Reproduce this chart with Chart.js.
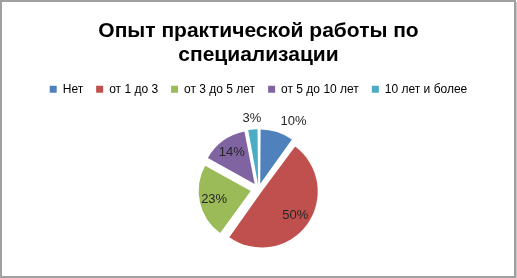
<!DOCTYPE html>
<html>
<head>
<meta charset="utf-8">
<script src="https://cdn.jsdelivr.net/npm/chart.js@4"></script>
<style>
  html, body { margin: 0; padding: 0; background: #fff; }
  canvas { display: block; }
</style>
</head>
<body>
<canvas id="myChart" width="517" height="278"></canvas>
<script>
const titleLines = ['Опыт практической работы по', 'специализации'];
const categories = ['Нет', 'от 1 до 3', 'от 3 до 5 лет', 'от 5 до 10 лет', '10 лет и более'];
const shares = [10, 50, 23, 14, 3];
const colors = ['#4F81BD', '#C0504D', '#9BBB59', '#8064A2', '#4BACC6'];

const EXPLODE = 8; // how far every slice is pulled out, px
const total = shares.reduce((a, b) => a + b, 0);

// chart.js scales the arc offset by slice size, undo that so all slices move the same
function sliceOffset(c) {
    const circ = 2 * Math.PI * shares[c.dataIndex] / total;
    const fix = 1 - Math.sin(Math.min(Math.PI, circ));
    return EXPLODE * 4 / (1 + fix);
}

// percent labels, small slices get theirs outside like excel does
const pctLabels = {
    id: 'pctLabels',
    afterDatasetsDraw(chart) {
        const ctx = chart.ctx;
        const meta = chart.getDatasetMeta(0);
        ctx.save();
        ctx.font = '13px "Liberation Sans"';
        ctx.fillStyle = '#262626';
        ctx.textBaseline = 'middle';
        meta.data.forEach((arc, i) => {
            const p = arc.getProps(['x', 'y', 'startAngle', 'endAngle', 'outerRadius'], true);
            const mid = (p.startAngle + p.endAngle) / 2;
            const cx = p.x + Math.cos(mid) * EXPLODE;
            const cy = p.y + Math.sin(mid) * EXPLODE;
            const outside = shares[i] < 12;
            const dist = outside ? p.outerRadius + 11 : p.outerRadius * 0.72;
            const lx = cx + Math.cos(mid) * dist;
            const ly = cy + Math.sin(mid) * dist;
            if (outside) {
                const h = Math.cos(mid);
                ctx.textAlign = h > 0.15 ? 'left' : (h < -0.15 ? 'right' : 'center');
            } else {
                ctx.textAlign = 'center';
            }
            ctx.fillText(Math.round(shares[i] / total * 100) + '%', lx, ly);
        });
        ctx.restore();
    }
};

// grey frame round the whole chart
const frame = {
    id: 'frame',
    afterDraw(chart) {
        const ctx = chart.ctx;
        ctx.save();
        ctx.strokeStyle = '#a0a0a0';
        ctx.lineWidth = 2;
        ctx.strokeRect(1, 1, chart.width - 3, chart.height - 2);
        ctx.strokeStyle = '#c8c8c8';
        ctx.lineWidth = 1;
        ctx.beginPath();
        ctx.moveTo(chart.width - 0.5, 2);
        ctx.lineTo(chart.width - 0.5, chart.height);
        ctx.stroke();
        ctx.restore();
    }
};

const ctx = document.getElementById('myChart');
new Chart(ctx, {
    type: 'pie',
    data: {
        labels: categories,
        datasets: [{
            data: shares,
            backgroundColor: colors,
            borderWidth: 0,
            offset: sliceOffset
        }]
    },
    options: {
        responsive: false,
        animation: false,
        radius: 52,
        layout: {
            padding: { top: 0, bottom: 5 }
        },
        plugins: {
            title: {
                display: true,
                text: titleLines,
                color: '#000',
                font: { family: 'Liberation Sans', size: 21, weight: 'bold', lineHeight: 1.15 },
                padding: { top: 19, bottom: 3 }
            },
            legend: {
                position: 'top',
                labels: {
                    boxWidth: 7,
                    boxHeight: 7,
                    padding: 13,
                    color: '#000',
                    font: { family: 'Liberation Sans', size: 12 }
                }
            },
            tooltip: { enabled: false }
        }
    },
    plugins: [pctLabels, frame]
});
</script>
</body>
</html>
